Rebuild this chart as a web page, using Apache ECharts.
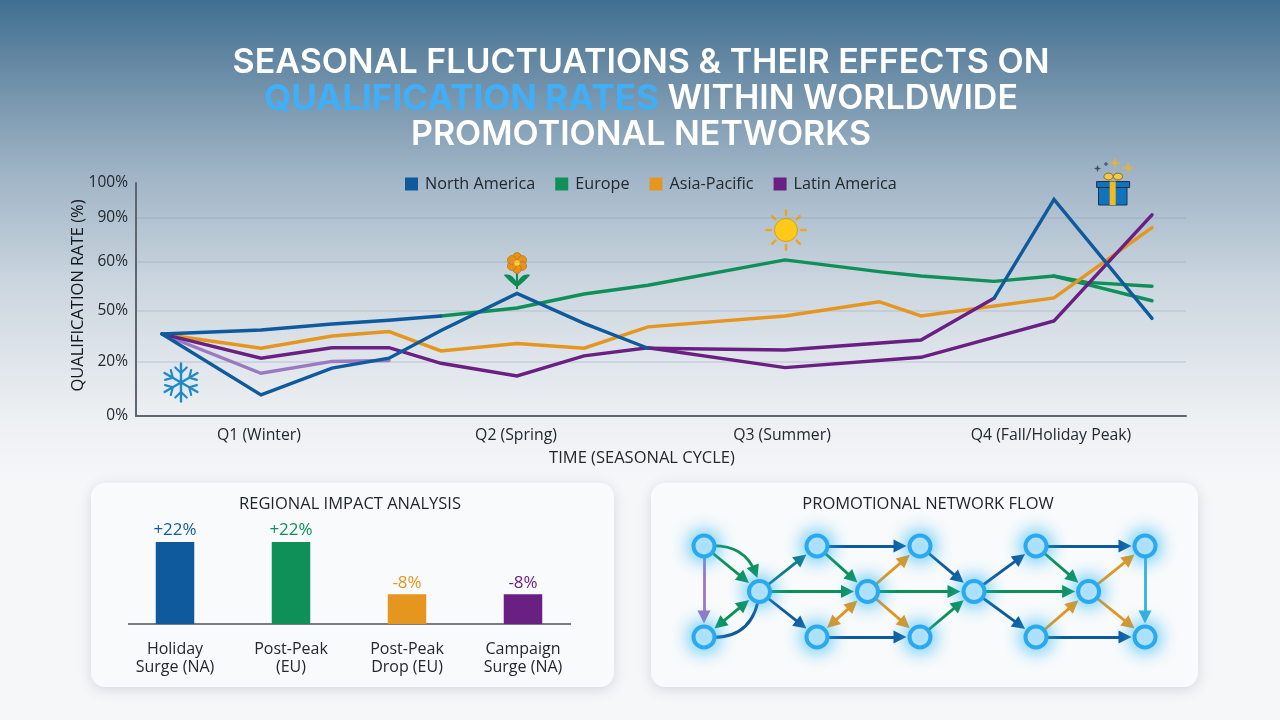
<!DOCTYPE html>
<html>
<head>
<meta charset="utf-8">
<title>Seasonal fluctuations and qualification rates</title>
<style>html,body{margin:0;padding:0;background:#f6f7f9}#chart{width:1280px;height:720px}</style>
<script src="https://cdn.jsdelivr.net/npm/echarts@6/dist/echarts.min.js"></script>
</head>
<body>
<div id="chart"></div>
<script>
// Printed y-axis ticks and where each one sits along the (unevenly spaced) axis.
const yTickLabels = ['0%', '20%', '50%', '60%', '90%', '100%'];
const yTickRates = [0, 20, 50, 60, 90, 100];
const yTickStops = [0, 23.2, 45.3, 66.1, 85, 100];

const quarterLabels = ['Q1 (Winter)', 'Q2 (Spring)', 'Q3 (Summer)', 'Q4 (Fall/Holiday Peak)'];
const quarterWeeks = [6.15, 19, 32.3, 45.75];

// Shared time grid, in weeks of the seasonal cycle.
const weeks = [1.3, 6.25, 9.8, 12.65, 15.25, 19.05, 22.4, 25.6, 32.45, 37.15, 39.25, 42.9, 45.9, 47.55, 50.8];

// Qualification rates (%). null means the run has no point in that week.
const europeEarly = [36.3, 38.6, 42.1, 44.3, 46.8];
const europe = [null, null, null, null, 46.8, 50.5, 53.4, 55.2, 61.4, 58, 57.1, 56, 57.1, 55.8, 55];
const europeAlt = [null, null, null, null, null, null, null, null, null, null, null, null, 57.1, null, 52];
const asiaPacific = [36.3, 28, 35.1, 37.7, 26.4, 30.7, 28, 40.4, 46.8, 51.8, 46.8, null, 52.6, null, 83.4];
const latinAmerica = [36.3, 22.2, 28.3, 28.3, 19.5, 14.8, 23.5, 28.3, 17.9, null, 22.7, null, 43.9, null, 90.9];
const latinFaded = [36.3, 15.8, 20.3, 20.8];
const northAmerica = [36.3, 7.8, 17.7, 22.2, 38.3, 53.5, 42.5, 28];
const northAmericaPlateau = [null, null, null, null, null, null, null, 28, 27, null, 32.8, 52.5];
const northAmericaPeak = [null, null, null, null, null, null, null, null, null, null, null, 52.5, 95.3, null, 45.4];

// Regional impact panel.
const impactLabels = ['Holiday\nSurge (NA)', 'Post-Peak\n(EU)', 'Post-Peak\nDrop (EU)', 'Campaign\nSurge (NA)'];
const impactValues = [22, 22, -8, -8];

// Network panel: node column offsets and rows, then [from, to, colour key, style].
const nodeColumns = [14, 14, 69.5, 127, 127, 177.5, 230, 230, 284, 346, 346, 398.6, 455, 455];
const nodeRows = [0, 2, 1, 0, 2, 1, 0, 2, 1, 0, 2, 1, 0, 2];
const flowLinks = [
  [0, 2, 'eu'], [0, 2, 'eu', 'curveA'], [0, 1, 'fade'], [1, 2, 'eu', 'both'], [1, 2, 'na', 'curveB'],
  [2, 3, 'teal'], [2, 5, 'eu'], [2, 4, 'na'],
  [3, 6, 'na'], [3, 5, 'eu'], [4, 7, 'na'], [4, 5, 'ap', 'both'],
  [5, 6, 'ap'], [5, 7, 'ap'], [5, 8, 'eu'], [6, 8, 'na'], [7, 8, 'eu'],
  [8, 9, 'na'], [8, 11, 'eu'], [8, 10, 'na'],
  [9, 12, 'na'], [9, 11, 'eu'], [10, 11, 'ap'], [10, 13, 'na'],
  [11, 12, 'ap'], [11, 13, 'ap'], [12, 13, 'sky']
];

const colors = { na: '#0f5a9c', eu: '#0e9058', ap: '#e5961e', la: '#6a1f82', fade: '#9a78c2', teal: '#12788a', sky: '#35b0e2' };
const ink = '#23282f';
const uiFont = '"Open Sans", "Noto Sans", sans-serif';

// Maps a printed rate onto the piecewise axis.
function toAxis(rate) {
  if (rate === null) return null;
  for (let i = 1; i < yTickRates.length; i++) {
    if (rate <= yTickRates[i]) {
      const t = (rate - yTickRates[i - 1]) / (yTickRates[i] - yTickRates[i - 1]);
      return yTickStops[i - 1] + t * (yTickStops[i] - yTickStops[i - 1]);
    }
  }
  return 100;
}
function run(values) {
  return values.map((v, i) => [weeks[i], toAxis(v)]).filter(p => p[1] !== null);
}
function lineSeries(name, values, color) {
  return {
    type: 'line', name, data: run(values), xAxisIndex: 0, yAxisIndex: 0,
    showSymbol: false, symbol: 'none', smooth: false,
    lineStyle: { color, width: 3.4, join: 'miter', cap: 'round' },
    itemStyle: { color }
  };
}

// Small pictograms placed around the trend lines.
function rays(cx, cy, inner, outer, count, stroke, width, turn) {
  const out = [];
  for (let i = 0; i < count; i++) {
    const a = i / count * Math.PI * 2 + (turn || 0);
    out.push({ type: 'line', shape: { x1: cx + Math.cos(a) * inner, y1: cy + Math.sin(a) * inner, x2: cx + Math.cos(a) * outer, y2: cy + Math.sin(a) * outer }, style: { stroke, lineWidth: width, lineCap: 'round' } });
  }
  return out;
}
function snowflake(cx, cy, r) {
  const parts = rays(cx, cy, 0, r, 6, '#1f8ac8', 2.4, Math.PI / 2);
  for (let i = 0; i < 6; i++) {
    const a = i / 6 * Math.PI * 2 + Math.PI / 2;
    const mx = cx + Math.cos(a) * r * 0.5, my = cy + Math.sin(a) * r * 0.5;
    [-0.8, 0.8].forEach(d => parts.push({ type: 'line', shape: { x1: mx, y1: my, x2: mx + Math.cos(a + d) * r * 0.42, y2: my + Math.sin(a + d) * r * 0.42 }, style: { stroke: '#1f8ac8', lineWidth: 2.2, lineCap: 'round' } }));
  }
  return parts;
}
function flower(cx, cy) {
  const parts = [
    { type: 'line', shape: { x1: cx, y1: cy + 6, x2: cx, y2: cy + 26 }, style: { stroke: '#0e8a55', lineWidth: 2 } },
    { type: 'polygon', shape: { points: [[cx, cy + 24], [cx - 13, cy + 12], [cx - 7, cy + 12], [cx - 1, cy + 18]], smooth: 0.3 }, style: { fill: '#0e8a55' } },
    { type: 'polygon', shape: { points: [[cx, cy + 24], [cx + 13, cy + 12], [cx + 7, cy + 12], [cx + 1, cy + 18]], smooth: 0.3 }, style: { fill: '#0e8a55' } }
  ];
  for (let i = 0; i < 6; i++) {
    const a = i / 6 * Math.PI * 2 - Math.PI / 2;
    parts.push({ type: 'circle', shape: { cx: cx + Math.cos(a) * 6, cy: cy + Math.sin(a) * 6, r: 4.4 }, style: { fill: '#e8921a', stroke: '#b9700f', lineWidth: 0.7 } });
  }
  parts.push({ type: 'circle', shape: { cx, cy, r: 2.8 }, style: { fill: '#f7d73a' } });
  return parts;
}
function sun(cx, cy) {
  return rays(cx, cy, 15, 19.5, 8, '#e8a72a', 2.6).concat([
    { type: 'circle', shape: { cx, cy, r: 11.5 }, style: { fill: '#ffc918', stroke: '#dd9a20', lineWidth: 1 } }
  ]);
}
function sparkle(cx, cy, r, fill) {
  const k = r * 0.22;
  return { type: 'polygon', shape: { points: [[cx, cy - r], [cx + k, cy - k], [cx + r, cy], [cx + k, cy + k], [cx, cy + r], [cx - k, cy + k], [cx - r, cy], [cx - k, cy - k]] }, style: { fill, stroke: fill, lineWidth: 0.5 } };
}
function gift() {
  const edge = '#1d3448';
  return [
    { type: 'ellipse', shape: { cx: 1108.5, cy: 176.5, rx: 4.6, ry: 3.4 }, style: { fill: '#f2c94c', stroke: '#8b6a16', lineWidth: 1 } },
    { type: 'ellipse', shape: { cx: 1118, cy: 176.5, rx: 4.6, ry: 3.4 }, style: { fill: '#f2c94c', stroke: '#8b6a16', lineWidth: 1 } },
    { type: 'rect', shape: { x: 1098.5, y: 187, width: 28.5, height: 18 }, style: { fill: '#1273bd', stroke: edge, lineWidth: 1 } },
    { type: 'rect', shape: { x: 1096.6, y: 181.5, width: 33, height: 6 }, style: { fill: '#1273bd', stroke: edge, lineWidth: 1 } },
    { type: 'rect', shape: { x: 1109.7, y: 181.5, width: 6, height: 23.5 }, style: { fill: '#f4b91f' } },
    sparkle(1115, 163, 5, '#e7b23a'), sparkle(1128, 168, 5.5, '#e7b23a'),
    sparkle(1097.5, 168.5, 3, '#3c4c5c'), sparkle(1106, 164, 2, '#3c4c5c')
  ];
}

function card(x, y, width, height) {
  return { type: 'rect', shape: { x, y, width, height, r: 14 }, style: { fill: '#f9fafb', shadowBlur: 14, shadowOffsetY: 3, shadowColor: 'rgba(40,50,60,0.16)' } };
}

const arrowLink = ([from, to, key, style]) => {
  const link = {
    source: String(from), target: String(to),
    symbol: style === 'both' ? ['triangle', 'triangle'] : style === 'curveB' ? ['none', 'none'] : ['none', 'triangle'],
    symbolSize: 13,
    lineStyle: { color: colors[key], width: 2.8, opacity: 1, curveness: 0 }
  };
  if (style === 'curveA') link.lineStyle.curveness = 0.5;
  if (style === 'curveB') link.lineStyle.curveness = -0.5;
  return link;
};

const option = {
  animation: false,
  backgroundColor: {
    type: 'linear', x: 0, y: 0, x2: 0, y2: 1,
    colorStops: [
      { offset: 0, color: '#406f91' },
      { offset: 0.1, color: '#6a8ca6' },
      { offset: 0.24, color: '#9fb4c6' },
      { offset: 0.4, color: '#cdd7e0' },
      { offset: 0.58, color: '#edf0f3' },
      { offset: 0.68, color: '#f6f7f9' },
      { offset: 1, color: '#f6f7f9' }
    ]
  },
  title: [
    {
      left: 636, top: 40, textAlign: 'center',
      text: '{w|SEASONAL FLUCTUATIONS & THEIR EFFECTS ON}\n{b|QUALIFICATION RATES}{w| WITHIN WORLDWIDE}\n{w|PROMOTIONAL NETWORKS}',
      textStyle: {
        lineHeight: 36,
        rich: {
          w: { color: '#ffffff', fontFamily: 'Inter', fontSize: 34, fontWeight: 600, lineHeight: 36 },
          b: { color: '#41aef8', fontFamily: 'Inter', fontSize: 35, fontWeight: 700, lineHeight: 36 }
        }
      }
    },
    { text: 'REGIONAL IMPACT ANALYSIS', left: 345, top: 491, textAlign: 'center', textStyle: { color: '#1e242b', fontFamily: uiFont, fontSize: 16.5, fontWeight: 500 } },
    { text: 'PROMOTIONAL NETWORK FLOW', left: 923, top: 491, textAlign: 'center', textStyle: { color: '#1e242b', fontFamily: uiFont, fontSize: 16.5, fontWeight: 500 } }
  ],
  legend: {
    left: 405, top: 176, padding: 0, itemWidth: 13, itemHeight: 13, itemGap: 20, icon: 'rect',
    textStyle: { color: ink, fontFamily: uiFont, fontSize: 16.2, padding: [0, 0, 0, 2] },
    data: [
      { name: 'North America', itemStyle: { color: colors.na } },
      { name: 'Europe', itemStyle: { color: colors.eu } },
      { name: 'Asia-Pacific', itemStyle: { color: colors.ap } },
      { name: 'Latin America', itemStyle: { color: colors.la } }
    ]
  },
  grid: [
    { left: 136, top: 183, width: 1050, height: 233 },
    { left: 117, top: 542, width: 464, height: 82 },
    { left: 690, top: 546, width: 470, height: 91 }
  ],
  xAxis: [
    {
      type: 'value', gridIndex: 0, min: 0, max: 52.5,
      name: 'TIME (SEASONAL CYCLE)', nameLocation: 'middle', nameGap: 34,
      nameTextStyle: { color: ink, fontFamily: uiFont, fontSize: 16.5, padding: [0, 38, 0, 0] },
      axisLine: { show: true, lineStyle: { color: '#5e6670', width: 2 } },
      axisTick: { show: false, customValues: quarterWeeks },
      splitLine: { show: false },
      axisLabel: { customValues: quarterWeeks, margin: 11, color: ink, fontFamily: uiFont, fontSize: 15.8, formatter: (v) => quarterLabels[quarterWeeks.indexOf(v)] }
    },
    {
      type: 'category', gridIndex: 1, data: impactLabels,
      axisLine: { show: false }, axisTick: { show: false },
      axisLabel: { color: ink, fontFamily: uiFont, fontSize: 16, lineHeight: 18.5, margin: 16, interval: 0 }
    },
    { type: 'value', gridIndex: 2, min: 0, max: 470, show: false }
  ],
  yAxis: [
    {
      type: 'value', gridIndex: 0, min: 0, max: 100,
      axisLine: { show: true, lineStyle: { color: '#5e6670', width: 2 } },
      axisTick: { show: false, customValues: yTickStops },
      splitLine: { show: true, showMinLine: false, showMaxLine: false, lineStyle: { color: 'rgba(130,150,170,0.2)', width: 2 } },
      axisLabel: { customValues: yTickStops, margin: 8, color: ink, fontFamily: uiFont, fontSize: 15.5, padding: [2, 0, 0, 0], formatter: (v) => yTickLabels[yTickStops.indexOf(v)] }
    },
    { type: 'value', gridIndex: 1, min: 0, max: 22, show: false },
    { type: 'value', gridIndex: 2, min: 0, max: 2, inverse: true, show: false }
  ],
  series: [
    lineSeries('Europe', europe, colors.eu),
    lineSeries('Europe', europeAlt, colors.eu),
    lineSeries('Asia-Pacific', asiaPacific, colors.ap),
    lineSeries('Latin America', latinFaded, colors.fade),
    lineSeries('Latin America', latinAmerica, colors.la),
    lineSeries('Latin America', northAmericaPlateau, colors.la),
    lineSeries('North America', europeEarly, colors.na),
    lineSeries('North America', northAmerica, colors.na),
    lineSeries('North America', northAmericaPeak, colors.na),
    {
      type: 'bar', xAxisIndex: 1, yAxisIndex: 1, barWidth: 38.5,
      data: impactValues.map((v, i) => ({
        value: Math.abs(v),
        itemStyle: { color: [colors.na, colors.eu, colors.ap, colors.la][i] },
        label: {
          show: true, position: 'top', distance: 3, fontFamily: uiFont, fontSize: 17,
          color: [colors.na, colors.eu, colors.ap, colors.la][i],
          formatter: (v > 0 ? '+' : '') + v + '%'
        }
      }))
    },
    {
      // Edges are routed around a wider, invisible node so that arrowheads stop short of the rings.
      type: 'graph', coordinateSystem: 'cartesian2d', xAxisIndex: 2, yAxisIndex: 2, layout: 'none',
      symbol: 'circle', symbolSize: 40, z: 3, silent: true,
      itemStyle: { opacity: 0 },
      label: { show: false },
      data: nodeColumns.map((c, i) => ({ name: String(i), value: [c, nodeRows[i]] })),
      links: flowLinks.map(arrowLink)
    },
    {
      type: 'scatter', xAxisIndex: 2, yAxisIndex: 2, z: 4, silent: true, clip: false,
      symbol: 'circle', symbolSize: 21,
      itemStyle: { color: '#d8eefb', borderColor: '#29aaf0', borderWidth: 4, shadowBlur: 20, shadowColor: '#25b5f5', opacity: 1 },
      data: nodeColumns.map((c, i) => [c, nodeRows[i]])
    }
  ],
  graphic: [
    card(91, 483, 523, 204),
    card(651, 483, 547, 204),
    {
      type: 'text', x: 78, y: 295.5, rotation: Math.PI / 2, z: 1,
      style: { text: 'QUALIFICATION RATE (%)', align: 'center', verticalAlign: 'middle', fill: '#15191e', font: '500 16.5px "Open Sans", "Noto Sans", sans-serif' }
    },
    { type: 'line', shape: { x1: 128, y1: 624, x2: 571, y2: 624 }, style: { stroke: '#4b525a', lineWidth: 1.5 }, z: 1 },
    { type: 'group', z: 1, children: snowflake(181, 382.5, 19) },
    { type: 'group', z: 1, children: flower(517, 263) },
    { type: 'group', z: 1, children: sun(786, 230) },
    { type: 'group', z: 1, children: gift() }
  ]
};

echarts.init(document.getElementById('chart')).setOption(option);
</script>
</body>
</html>
